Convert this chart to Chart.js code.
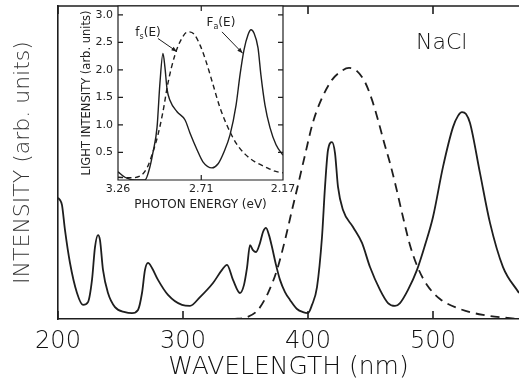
<!DOCTYPE html>
<html lang="en">
<head>
<meta charset="UTF-8" />
<title>NaCl luminescence</title>
<script src="https://cdn.jsdelivr.net/npm/chart.js"></script>
<style>
  html, body { margin: 0; padding: 0; background: #fff; }
  .wrap { position: relative; width: 519px; height: 384px; overflow: hidden; }
  #mainChart { position: absolute; left: 0; top: 0; }
  #insetChart { position: absolute; left: 60px; top: 0; }
</style>
</head>
<body>
<div class="wrap">
  <canvas id="mainChart" width="519" height="384"></canvas>
  <canvas id="insetChart" width="240" height="214"></canvas>
</div>
<script>
// main spectrum: wavelength (nm) against intensity (arb. units, 0-100)
const solidWl = [200, 201.6, 203.2, 205.6, 209.6, 215.2, 220, 224, 227.2, 229.6,
  232, 233.6, 236, 240, 245.6, 253.6, 259.2, 264, 267.2, 269.6,
  272, 275.2, 280, 288, 299.2, 305.6, 313.6, 324, 331.2, 335.2,
  340, 345.6, 348.8, 351.2, 353.6, 356, 358.4, 361.6, 364, 366.4,
  368.8, 371.2, 374.4, 377.6, 381.6, 385.6, 391.2, 396, 400, 403.2,
  407.2, 411.2, 413.6, 416, 419.2, 421.6, 424, 428, 436, 443.2,
  449.6, 457.6, 464, 469.6, 473.6, 480, 487.2, 493.6, 500, 508,
  516, 520, 523.2, 526.4, 529.6, 537.6, 545.6, 556, 568.8];
const solidInt = [38.7, 38.0, 36.4, 28.4, 17.9, 8.3, 4.5, 5.4, 12.5, 23,
  26.8, 25.2, 15.7, 8.3, 3.8, 2.2, 1.9, 2.9, 8.3, 15.7,
  17.9, 16.3, 12.5, 7.7, 4.5, 4.2, 7, 11.5, 15.7, 17.3,
  12.5, 8.3, 10.9, 16.3, 23.6, 22, 21.4, 24.3, 27.8, 29.1,
  26.8, 23, 17.3, 12.5, 8.6, 6.1, 3.2, 2.2, 1.9, 4.5,
  10.2, 26.2, 42.2, 54, 56.5, 53, 42.2, 34.8, 29.4, 24.3,
  16.6, 9.3, 5.1, 4.2, 5.1, 9.3, 15.7, 23.6, 32.6, 48.6,
  61.3, 64.9, 66.1, 65.5, 62.6, 46.6, 30.7, 16.6, 8.3];
const dashWl = [340, 351.2, 360, 368, 375.2, 381.6, 387.2, 392, 397.6, 404,
  411.2, 419.2, 425.6, 432.8, 439.2, 445.6, 451.2, 456, 460.8, 465.6,
  470.4, 475.2, 481.6, 488, 495.2, 505.6, 521.6, 540, 561.6, 568.8];
const dashInt = [0, 0.6, 2.9, 8.3, 15.7, 25.2, 34.8, 42.8, 52.4, 62.9,
  70.6, 76.4, 78.9, 80.2, 79.2, 75.7, 70, 63.6, 56.5, 49.8,
  42.2, 33.9, 23.6, 16.3, 10.9, 6.4, 3.2, 1.3, 0.3, 0];
const wlTicks = [200, 300, 400, 500];

// inset: photon energy (eV) against light intensity
const faEnergy = [3.26, 3.214, 3.148, 3.082, 3.049, 3.029, 3.002, 2.983, 2.963, 2.95,
  2.936, 2.917, 2.87, 2.817, 2.784, 2.738, 2.699, 2.639, 2.6, 2.56,
  2.52, 2.48, 2.454, 2.428, 2.401, 2.381, 2.362, 2.335, 2.316, 2.289,
  2.256, 2.216, 2.17];
const faInt = [0.15, 0.05, 0, 0, 0.24, 0.5, 0.96, 1.76, 2.3, 2.05,
  1.65, 1.45, 1.24, 1.09, 0.85, 0.55, 0.33, 0.22, 0.29, 0.51,
  0.82, 1.36, 1.91, 2.36, 2.64, 2.73, 2.67, 2.4, 1.91, 1.36,
  0.95, 0.64, 0.45];
const fsEnergy = [3.26, 3.181, 3.115, 3.068, 3.029, 2.996, 2.963, 2.93, 2.884, 2.837,
  2.798, 2.758, 2.718, 2.678, 2.632, 2.586, 2.533, 2.48, 2.421, 2.355,
  2.289, 2.223, 2.17];
const fsInt = [0.05, 0.04, 0.07, 0.22, 0.51, 0.82, 1.24, 1.76, 2.27, 2.58,
  2.69, 2.65, 2.45, 2.15, 1.73, 1.31, 0.95, 0.67, 0.47, 0.33,
  0.24, 0.16, 0.13];
const energyTicks = [3.26, 2.71, 2.17];
const insetYTicks = [0.5, 1.0, 1.5, 2.0, 2.5, 3.0];

const ink = '#1e1e1e';
const FONT = 'DejaVu Sans';

const toPoints = (xs, ys) => xs.map((v, i) => ({ x: v, y: ys[i] }));
// keep tick labels from pushing the plot area in
const noEdgePad = s => { s.paddingLeft = 0; s.paddingRight = 0; s.paddingTop = 0; s.paddingBottom = 0; };

// frame line(s) and inward tick marks
const frame = {
  id: 'frame',
  beforeDraw(chart, args, opts) {
    if (!opts.fillArea) return;
    const { ctx, chartArea: a } = chart;
    ctx.save();
    ctx.fillStyle = '#fff';
    ctx.fillRect(a.left, a.top, a.right - a.left, a.bottom - a.top);
    ctx.restore();
  },
  afterDraw(chart, args, opts) {
    const { ctx, chartArea: a, scales: { x, y } } = chart;
    ctx.save();
    ctx.strokeStyle = ink;
    ctx.lineWidth = opts.width;
    ctx.beginPath();
    if (opts.box) {
      ctx.rect(a.left, a.top, a.right - a.left, a.bottom - a.top);
    } else {
      ctx.moveTo(a.left, a.top);
      ctx.lineTo(a.right, a.top);
    }
    x.ticks.forEach(t => {
      const px = x.getPixelForValue(t.value);
      ctx.moveTo(px, a.bottom); ctx.lineTo(px, a.bottom - opts.len);
      ctx.moveTo(px, a.top); ctx.lineTo(px, a.top + opts.len);
    });
    if (opts.yTicks) {
      y.ticks.forEach(t => {
        const py = y.getPixelForValue(t.value);
        ctx.moveTo(a.left, py); ctx.lineTo(a.left + opts.len, py);
        ctx.moveTo(a.right, py); ctx.lineTo(a.right - opts.len, py);
      });
    }
    ctx.stroke();
    if (opts.label) {
      ctx.fillStyle = '#111';
      ctx.font = '300 22px "' + FONT + '"';
      ctx.textAlign = 'center';
      ctx.textBaseline = 'middle';
      ctx.fillText(opts.label.text, x.getPixelForValue(opts.label.x), y.getPixelForValue(opts.label.y));
    }
    ctx.restore();
  }
};

// f_s(E) / F_a(E) labels with arrows, placed in data units
const curveNotes = [
  { base: 'f', sub: 's', at: [3.062, 2.67], tail: [2.996, 2.57], tip: [2.87, 2.33] },
  { base: 'F', sub: 'a', at: [2.58, 2.85], tail: [2.573, 2.69], tip: [2.436, 2.3] }
];
const notes = {
  id: 'notes',
  afterDatasetsDraw(chart) {
    const { ctx, scales: { x, y } } = chart;
    ctx.save();
    ctx.fillStyle = ink;
    ctx.strokeStyle = ink;
    ctx.lineWidth = 1;
    ctx.textBaseline = 'middle';
    curveNotes.forEach(n => {
      const cx = x.getPixelForValue(n.at[0]);
      const cy = y.getPixelForValue(n.at[1]);
      ctx.font = '12px "' + FONT + '"';
      const wb = ctx.measureText(n.base).width;
      const wr = ctx.measureText('(E)').width;
      ctx.font = '8px "' + FONT + '"';
      const ws = ctx.measureText(n.sub).width;
      const sx = cx - (wb + ws + wr) / 2;
      ctx.textAlign = 'left';
      ctx.font = '12px "' + FONT + '"';
      ctx.fillText(n.base, sx, cy);
      ctx.font = '8px "' + FONT + '"';
      ctx.fillText(n.sub, sx + wb, cy + 4);
      ctx.font = '12px "' + FONT + '"';
      ctx.fillText('(E)', sx + wb + ws, cy);

      const x0 = x.getPixelForValue(n.tail[0]), y0 = y.getPixelForValue(n.tail[1]);
      const x1 = x.getPixelForValue(n.tip[0]), y1 = y.getPixelForValue(n.tip[1]);
      ctx.beginPath();
      ctx.moveTo(x0, y0);
      ctx.lineTo(x1, y1);
      ctx.stroke();
      const ang = Math.atan2(y1 - y0, x1 - x0);
      ctx.beginPath();
      ctx.moveTo(x1, y1);
      ctx.lineTo(x1 - 6 * Math.cos(ang - 0.35), y1 - 6 * Math.sin(ang - 0.35));
      ctx.lineTo(x1 - 6 * Math.cos(ang + 0.35), y1 - 6 * Math.sin(ang + 0.35));
      ctx.closePath();
      ctx.fill();
    });
    ctx.restore();
  }
};

new Chart(document.getElementById('mainChart'), {
  type: 'line',
  data: {
    datasets: [
      {
        data: toPoints(solidWl, solidInt),
        borderColor: ink, borderWidth: 1.8, pointRadius: 0,
        cubicInterpolationMode: 'monotone', fill: false
      },
      {
        data: toPoints(dashWl, dashInt),
        borderColor: ink, borderWidth: 1.8, borderDash: [9, 6], pointRadius: 0,
        cubicInterpolationMode: 'monotone', fill: false
      }
    ]
  },
  options: {
    responsive: false,
    animation: false,
    events: [],
    layout: { padding: { top: 6, right: 0, left: 0, bottom: 0 } },
    plugins: {
      legend: { display: false },
      tooltip: { enabled: false },
      frame: { width: 1.6, len: 8, box: false, yTicks: false, label: { text: 'NaCl', x: 507, y: 88 } }
    },
    scales: {
      x: {
        type: 'linear', min: 200, max: 568.8,
        afterBuildTicks: s => { s.ticks = wlTicks.map(v => ({ value: v })); },
        afterFit: s => { s.height = 65; noEdgePad(s); },
        grid: { display: false, drawTicks: false },
        border: { display: true, color: ink, width: 1.6 },
        ticks: { font: { family: FONT, size: 24, weight: 300 }, color: '#111', padding: 8, maxRotation: 0, autoSkip: false },
        title: { display: true, text: 'WAVELENGTH (nm)', font: { family: FONT, size: 25, weight: 300 }, color: '#111', padding: { top: 0, bottom: 2 } }
      },
      y: {
        min: 0, max: 100,
        afterFit: s => { s.width = 58; noEdgePad(s); },
        grid: { display: false, drawTicks: false },
        border: { display: true, color: ink, width: 1.6 },
        ticks: { display: false },
        title: { display: true, text: 'INTENSITY (arb. units)', font: { family: FONT, size: 22, weight: 300 }, color: '#333', padding: { top: 10, bottom: 0 } }
      }
    }
  },
  plugins: [frame]
});

new Chart(document.getElementById('insetChart'), {
  type: 'line',
  data: {
    datasets: [
      {
        data: toPoints(faEnergy, faInt),
        borderColor: ink, borderWidth: 1.4, pointRadius: 0,
        cubicInterpolationMode: 'monotone', fill: false
      },
      {
        data: toPoints(fsEnergy, fsInt),
        borderColor: ink, borderWidth: 1.4, borderDash: [5, 3.5], pointRadius: 0,
        cubicInterpolationMode: 'monotone', fill: false
      }
    ]
  },
  options: {
    responsive: false,
    animation: false,
    events: [],
    layout: { padding: { top: 6, right: 17, left: 0, bottom: 0 } },
    plugins: {
      legend: { display: false },
      tooltip: { enabled: false },
      frame: { width: 1.2, len: 5, box: true, yTicks: true, fillArea: true }
    },
    scales: {
      x: {
        type: 'linear', min: 2.17, max: 3.26, reverse: true,
        afterBuildTicks: s => { s.ticks = energyTicks.map(v => ({ value: v })); },
        afterFit: s => { s.height = 34; noEdgePad(s); },
        grid: { display: false, drawTicks: false },
        border: { display: false },
        ticks: { font: { family: FONT, size: 11 }, color: '#222', padding: 3, maxRotation: 0, autoSkip: false,
          callback: v => v.toFixed(2) },
        title: { display: true, text: 'PHOTON ENERGY (eV)', font: { family: FONT, size: 12 }, color: '#222', padding: { top: 0, bottom: 2 } }
      },
      y: {
        min: 0, max: 3.16,
        afterBuildTicks: s => { s.ticks = insetYTicks.map(v => ({ value: v })); },
        afterFit: s => { s.width = 58; noEdgePad(s); },
        grid: { display: false, drawTicks: false },
        border: { display: false },
        ticks: { font: { family: FONT, size: 11 }, color: '#222', padding: 5, callback: v => v.toFixed(1) },
        title: { display: true, text: 'LIGHT INTENSITY (arb. units)', font: { family: FONT, size: 11.5 }, color: '#222', padding: { top: 20, bottom: 0 } }
      }
    }
  },
  plugins: [frame, notes]
});
</script>
</body>
</html>
